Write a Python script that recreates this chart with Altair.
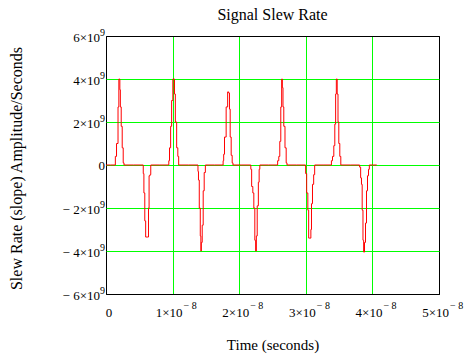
import altair as alt
import pandas as pd

# time in nanoseconds, slew rate in 1e9 amplitude/second
t_ns = [0.00,
        1.35, 1.46, 1.70, 1.91, 1.95, 2.06, 2.10, 2.21, 2.36, 2.51, 2.66, 2.75,
        5.56, 5.63, 5.75, 5.90, 6.01, 6.35, 6.41, 6.53, 6.68, 6.76,
        9.40, 9.46, 9.61, 9.80, 9.91, 10.16, 10.26, 10.31, 10.51, 10.71, 10.86, 10.96,
        13.78, 13.84, 13.93, 14.08, 14.23, 14.26, 14.37, 14.52, 14.67, 14.82, 15.02,
        17.55, 17.62, 17.72, 17.87, 18.21, 18.32, 18.51, 18.57, 18.72, 18.87, 19.02, 19.11,
        21.72, 21.77, 21.97, 22.12, 22.27, 22.42, 22.52, 22.63, 22.78, 22.97, 23.02, 23.17,
        25.67, 25.87, 26.02, 26.17, 26.32, 26.43, 26.53, 26.62, 26.77, 26.98, 27.13, 27.22,
        29.92, 30.03, 30.23, 30.38, 30.48, 30.74, 30.78, 30.93, 31.08, 31.28, 31.38,
        33.80, 33.89, 34.13, 34.28, 34.43, 34.53, 34.64, 34.79, 34.88, 35.03, 35.18, 35.33,
        38.03, 38.14, 38.33, 38.39, 38.54, 38.63, 38.74, 38.89, 39.04, 39.19, 39.34, 39.49, 39.59,
        40.65]
slope_g = [0.0,
           0.0, 0.4, 1.0, 2.7, 4.0, 4.0, 3.5, 2.7, 1.8, 0.8, 0.1, 0.0,
           0.0, -0.4, -1.3, -2.6, -3.35, -3.35, -2.0, -0.5, -0.45, 0.0,
           0.0, 0.2, 0.8, 1.8, 3.0, 4.0, 4.0, 3.3, 2.0, 0.8, 0.4, 0.0,
           0.0, -0.3, -0.7, -2.0, -3.3, -4.0, -3.6, -2.8, -1.2, -0.35, 0.0,
           0.0, 0.2, 0.5, 1.3, 2.7, 3.4, 3.35, 2.6, 1.3, 0.45, 0.1, 0.0,
           0.0, -0.2, -1.0, -1.3, -2.0, -3.5, -4.0, -3.3, -1.9, -0.8, -0.2, 0.0,
           0.0, 0.2, 0.4, 1.1, 2.7, 4.0, 3.6, 2.7, 1.8, 0.8, 0.1, 0.0,
           0.0, -0.4, -1.3, -2.1, -3.4, -3.4, -3.0, -1.8, -0.9, -0.45, 0.0,
           0.0, 0.2, 0.4, 0.9, 1.9, 3.3, 4.0, 3.3, 2.0, 1.0, 0.4, 0.0,
           0.0, -0.1, -0.6, -0.9, -2.1, -3.5, -4.05, -3.6, -2.7, -1.2, -0.5, -0.2, 0.0,
           0.0]

# tick values and their label parts (mantissa text, exponent text)
x_ticks = [1e-8, 2e-8, 3e-8, 4e-8, 5e-8]
x_main = ["1×10", "2×10", "3×10", "4×10", "5×10"]
x_exp = ["− 8", "− 8", "− 8", "− 8", "− 8"]
y_ticks = [-6e9, -4e9, -2e9, 2e9, 4e9, 6e9]
y_main = ["− 6×10", "− 4×10", "− 2×10", "2×10", "4×10", "6×10"]
y_exp = ["9", "9", "9", "9", "9", "9"]
all_x_ticks = [0] + x_ticks
all_y_ticks = [-6e9, -4e9, -2e9, 0, 2e9, 4e9, 6e9]

df = pd.DataFrame({
    "t": [v * 1e-9 for v in t_ns],
    "s": [v * 1e9 for v in slope_g],
    "order": list(range(len(t_ns))),
})
xl = pd.DataFrame({"t": x_ticks, "main": x_main, "exp": x_exp})
yl = pd.DataFrame({"s": y_ticks, "main": y_main, "exp": y_exp})
zl = pd.DataFrame({"t": [0.0], "s": [0.0], "main": ["0"]})

FONT = "Liberation Serif"
xs = alt.Scale(domain=[0, 5e-8], nice=False, zero=False)
ys = alt.Scale(domain=[-6e9, 6e9], nice=False, zero=False)

x_axis = alt.Axis(
    values=all_x_ticks, labels=False,
    title="Time (seconds)",
    titleFont=FONT, titleFontSize=15, titleFontWeight="normal", titleColor="black",
    titleY=50, titleBaseline="middle",
    ticks=False, domain=False,
    grid=True, gridColor={"condition": {"test": "datum.value <= 0 || datum.value >= 5e-8", "value": "black"}, "value": "#00ff00"},
    gridWidth=1, gridOpacity=1,
)
y_axis = alt.Axis(
    values=all_y_ticks, labels=False,
    title="Slew Rate (slope) Amplitude/Seconds",
    titleFont=FONT, titleFontSize=16, titleFontWeight="normal", titleColor="black",
    titleX=-90, titleY=132, titleBaseline="middle", titleAngle=-90,
    ticks=False, domain=False,
    grid=True, gridColor={"condition": {"test": "abs(datum.value) >= 6e9", "value": "black"}, "value": "#00ff00"},
    gridWidth=1, gridOpacity=1,
)

X = alt.X("t:Q", scale=xs, axis=x_axis)
Y = alt.Y("s:Q", scale=ys, axis=y_axis)

line = alt.Chart(df).mark_line(color="#ff0000", strokeWidth=1, clip=True, interpolate="step").encode(
    x=X, y=Y, order="order:Q",
)

txt = dict(font=FONT, color="black")
x_main_l = alt.Chart(xl).mark_text(align="right", baseline="middle", fontSize=13, dx=10, **txt).encode(
    x=X, y=alt.value(276.5), text="main:N")
x_exp_l = alt.Chart(xl).mark_text(align="left", baseline="middle", fontSize=10, dx=11, **txt).encode(
    x=X, y=alt.value(270), text="exp:N")
x_zero_l = alt.Chart(zl).mark_text(align="center", baseline="middle", fontSize=13, dx=3, **txt).encode(
    x=X, y=alt.value(276.5), text="main:N")
y_main_l = alt.Chart(yl).mark_text(align="right", baseline="middle", fontSize=13, dy=2, **txt).encode(
    y=Y, x=alt.value(-6), text="main:N")
y_exp_l = alt.Chart(yl).mark_text(align="left", baseline="middle", fontSize=10, dy=-3.5, **txt).encode(
    y=Y, x=alt.value(-6), text="exp:N")
y_zero_l = alt.Chart(zl).mark_text(align="right", baseline="middle", fontSize=13, dy=1, **txt).encode(
    y=Y, x=alt.value(-1), text="main:N")

chart = alt.layer(line, x_main_l, x_exp_l, x_zero_l, y_main_l, y_exp_l, y_zero_l).properties(
    width=333, height=258,
    title=alt.TitleParams("Signal Slew Rate", font=FONT, fontSize=16, fontWeight="normal",
                          color="black", anchor="middle", offset=5),
    autosize=alt.AutoSizeParams(type="none"),
    padding={"left": 106, "top": 36, "right": 34, "bottom": 61},
).configure(background="white").configure_view(stroke="black", strokeWidth=1)

chart.save("out.html", embed_options={"renderer": "svg", "actions": False})
